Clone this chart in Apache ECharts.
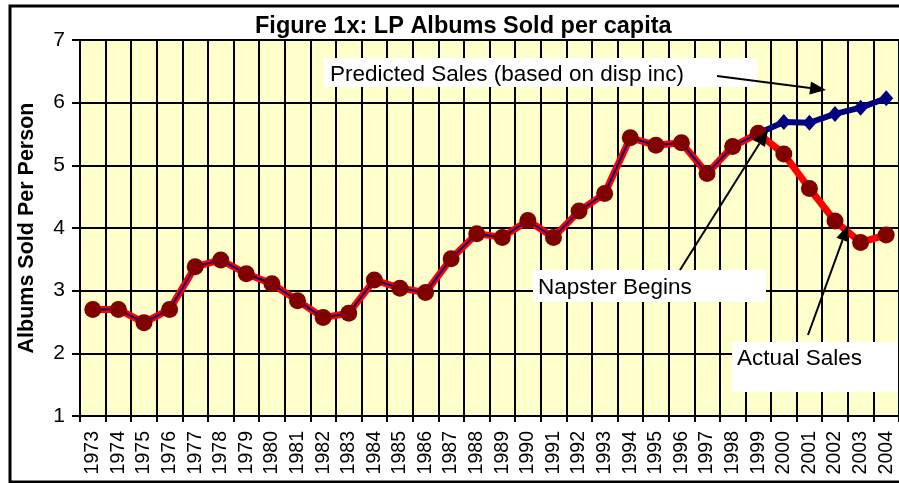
<!DOCTYPE html>
<html>
<head>
<meta charset="utf-8">
<script src="https://cdn.jsdelivr.net/npm/echarts@6/dist/echarts.min.js"></script>
<style>
html,body{margin:0;padding:0;background:#fff;}
#chart{width:899px;height:483px;}
</style>
</head>
<body>
<div id="chart"></div>
<script>
// data
var years = ['1973','1974','1975','1976','1977','1978','1979','1980','1981','1982',
	'1983','1984','1985','1986','1987','1988','1989','1990','1991','1992',
	'1993','1994','1995','1996','1997','1998','1999','2000','2001','2002','2003','2004'];
var actual = [2.70,2.70,2.49,2.70,3.38,3.49,3.27,3.11,2.84,2.57,
	2.64,3.17,3.04,2.97,3.51,3.91,3.85,4.12,3.85,4.27,
	4.55,5.44,5.32,5.36,4.87,5.30,5.51,5.18,4.63,4.11,3.77,3.89];
var predicted = [null,null,null,null,null,null,null,null,null,null,
	null,null,null,null,null,null,null,null,null,null,
	null,null,null,null,null,null,5.51,5.69,5.68,5.82,5.92,6.07];
var yTicks = [1,2,3,4,5,6,7];

var font = '"Liberation Sans", Arial, sans-serif';
var napsterIdx = years.indexOf('1999');
var pastLine = actual.map(function(v,i){ return i<=napsterIdx ? v : null; });

// arrow line + filled head
function arrow(x1,y1,x2,y2){
	var ang = Math.atan2(y2-y1,x2-x1);
	var len = 16, half = 6.5;
	var bx = x2-len*Math.cos(ang), by = y2-len*Math.sin(ang);
	var px = -Math.sin(ang)*half, py = Math.cos(ang)*half;
	return [
		{type:'line',z:110,shape:{x1:x1,y1:y1,x2:bx,y2:by},style:{stroke:'#000',lineWidth:2}},
		{type:'polygon',z:110,shape:{points:[[x2,y2],[bx+px,by+py],[bx-px,by-py]]},style:{fill:'#000'}}
	];
}
function box(x,y,w,h,txt,tx,ty){
	return [
		{type:'rect',z:100,shape:{x:x,y:y,width:w,height:h},style:{fill:'#fff'}},
		{type:'text',z:101,x:tx,y:ty,style:{text:txt,fill:'#000',font:'22.5px '+font,textVerticalAlign:'middle'}}
	];
}

var myChart = echarts.init(document.getElementById('chart'));
var graphics = [
	{type:'rect',z:120,shape:{x:10,y:6,width:905,height:476},style:{fill:null,stroke:'#000',lineWidth:3}}
].concat(
	box(324,58,433,29,'Predicted Sales (based on disp inc)',330,75),
	arrow(717,76,826,90),
	box(533,270,233,32,'Napster Begins',538,288),
	arrow(680,270,768,130),
	box(732,342,166,50,'Actual Sales',737,359),
	arrow(808,335,848,225)
);

var option = {
	animation:false,
	title:{
		text:'Figure 1x: LP Albums Sold per capita',
		left:250, top:10,
		textStyle:{fontFamily:font,fontSize:23.5,fontWeight:'bold',color:'#000'}
	},
	grid:{
		left:80, top:40, width:825, height:376,
		show:true, backgroundColor:'#FFFFCC', borderColor:'#808080', borderWidth:2
	},
	xAxis:{
		type:'category',
		data:years,
		boundaryGap:true,
		axisLine:{lineStyle:{color:'#000',width:2}},
		axisTick:{show:true,length:6,lineStyle:{color:'#000',width:2}},
		splitLine:{show:true,lineStyle:{color:'#000',width:2}},
		axisLabel:{rotate:90,margin:15,fontFamily:font,fontSize:19.5,color:'#000',interval:0}
	},
	yAxis:{
		type:'value',
		min:yTicks[0], max:yTicks[yTicks.length-1], interval:1,
		name:'Albums Sold Per Person',
		nameLocation:'middle', nameGap:42, nameRotate:90,
		nameTextStyle:{fontFamily:font,fontSize:21.5,fontWeight:'bold',color:'#000'},
		axisLine:{show:true,lineStyle:{color:'#000',width:2}},
		axisTick:{show:true,length:8,lineStyle:{color:'#000',width:2}},
		splitLine:{show:true,lineStyle:{color:'#000',width:2}},
		axisLabel:{margin:15,fontFamily:font,fontSize:21,color:'#000'}
	},
	series:[
		{
			name:'Actual Sales line', type:'line', data:actual, z:2,
			symbol:'none', lineStyle:{color:'#FF0000',width:7}
		},
		{
			name:'Predicted history', type:'line', data:pastLine, z:3,
			symbol:'none', lineStyle:{color:'#000080',width:2}
		},
		{
			name:'Predicted Sales', type:'line', data:predicted, z:3,
			symbol:'diamond', symbolSize:[14,16], showSymbol:true,
			itemStyle:{color:'#000080'}, lineStyle:{color:'#000080',width:6}
		},
		{
			name:'Actual Sales', type:'line', data:actual, z:4,
			symbol:'circle', symbolSize:17,
			itemStyle:{color:'#800000'}, lineStyle:{width:0,opacity:0}
		}
	],
	graphic:graphics
};
myChart.setOption(option);
</script>
</body>
</html>
